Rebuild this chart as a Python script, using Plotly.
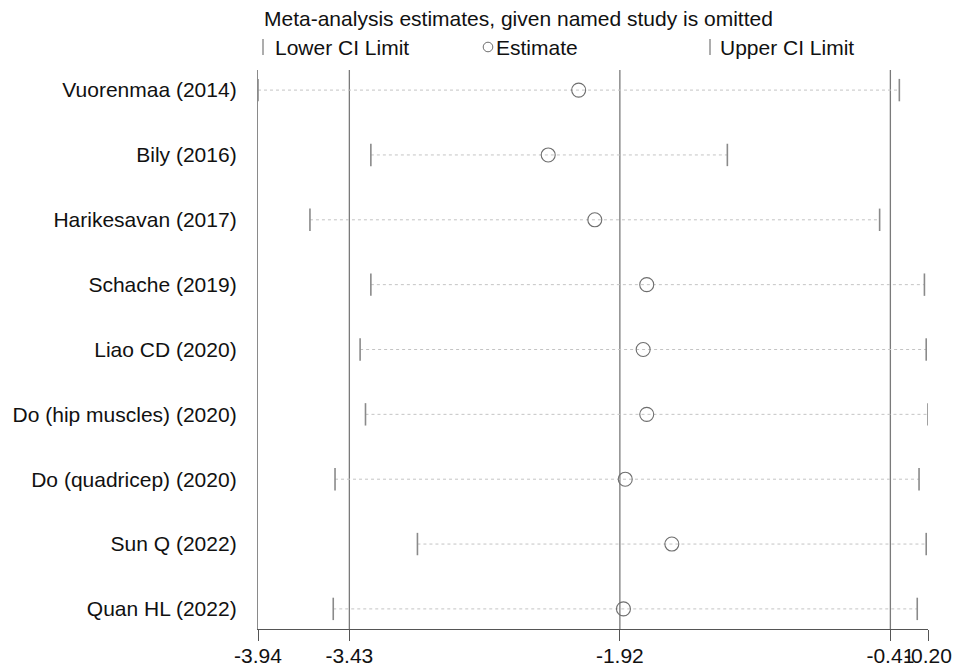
import plotly.graph_objects as go

# Leave-one-out meta-analysis: estimate and CI after omitting each study
studies = [
    "Vuorenmaa (2014)",
    "Bily (2016)",
    "Harikesavan (2017)",
    "Schache (2019)",
    "Liao CD (2020)",
    "Do (hip muscles) (2020)",
    "Do (quadricep) (2020)",
    "Sun Q (2022)",
    "Quan HL (2022)",
]
lower_ci = [-3.94, -3.31, -3.65, -3.31, -3.37, -3.34, -3.51, -3.05, -3.52]
estimate = [-2.15, -2.32, -2.06, -1.77, -1.79, -1.77, -1.89, -1.63, -1.90]
upper_ci = [-0.36, -1.32, -0.47, -0.22, -0.21, -0.20, -0.25, -0.21, -0.26]

# Reference lines: combined lower CI, combined estimate, combined upper CI
ref_lines = [-3.43, -1.92, -0.41]
x_ticks = [-3.94, -3.43, -1.92, -0.41, -0.20]
x_range = [-3.94, -0.20]

rows = list(range(len(studies)))
FONT = "Liberation Sans, Arial, sans-serif"
TXT = "#111111"

fig = go.Figure()

# dotted CI spans
for r, lo, hi in zip(rows, lower_ci, upper_ci):
    fig.add_trace(go.Scatter(
        x=[lo, hi], y=[r, r], mode="lines",
        line=dict(color="#c4c4c4", width=1, dash="dot"),
        hoverinfo="skip", showlegend=False,
    ))

fig.add_trace(go.Scatter(
    x=lower_ci, y=rows, mode="markers", name="Lower CI Limit",
    marker=dict(symbol="line-ns", size=16, line=dict(color="#8a8a8a", width=1.6)),
    showlegend=False,
))
fig.add_trace(go.Scatter(
    x=upper_ci, y=rows, mode="markers", name="Upper CI Limit",
    marker=dict(symbol="line-ns", size=16, line=dict(color="#8a8a8a", width=1.6)),
    showlegend=False,
))
fig.add_trace(go.Scatter(
    x=estimate, y=rows, mode="markers", name="Estimate",
    marker=dict(symbol="circle-open", size=14, color="#6e6e6e",
                line=dict(color="#6e6e6e", width=1.1)),
    showlegend=False,
))

for v in ref_lines:
    fig.add_shape(type="line", x0=v, x1=v, xref="x", y0=0, y1=1, yref="paper",
                  line=dict(color="#7a7a7a", width=1.3), layer="below")

# header: caption and key
fig.add_annotation(text="Meta-analysis estimates, given named study is omitted",
                   xref="paper", yref="paper", x=0, y=1, xshift=4, yshift=52,
                   xanchor="left", yanchor="middle", showarrow=False,
                   font=dict(family=FONT, size=21, color=TXT))

key_y = 23  # pixels above plot top
def key_bar(px):
    fig.add_shape(type="line", xref="paper", yref="paper",
                  x0=px / 670, x1=px / 670, y0=1 + (key_y - 8) / 559, y1=1 + (key_y + 8) / 559,
                  line=dict(color="#8a8a8a", width=1.4))

key_bar(5)
key_bar(452)
cx, cy, rad = 230, key_y, 4.8
fig.add_shape(type="circle", xref="paper", yref="paper",
              x0=(cx - rad) / 670, x1=(cx + rad) / 670,
              y0=1 + (cy - rad) / 559, y1=1 + (cy + rad) / 559,
              line=dict(color="#6e6e6e", width=1))
for px, label in [(15, "Lower CI Limit"), (236, "Estimate"), (460, "Upper CI Limit")]:
    fig.add_annotation(text=label, xref="paper", yref="paper",
                       x=px / 670, y=1 + key_y / 559, xanchor="left", yanchor="middle",
                       showarrow=False, font=dict(family=FONT, size=21, color=TXT))

fig.update_layout(
    template="none",
    width=960, height=668,
    margin=dict(l=258, r=32, t=70, b=39, autoexpand=False),
    paper_bgcolor="white", plot_bgcolor="white",
    font=dict(family=FONT, size=21, color=TXT),
    xaxis=dict(range=x_range, tickvals=x_ticks,
               ticktext=[f"{v:.2f}" for v in x_ticks],
               tickangle=0, showgrid=False, zeroline=False, automargin=False,
               showline=True, linecolor="#555555", linewidth=1.3,
               ticks="outside", ticklen=11, tickcolor="#555555", tickwidth=1.3,
               ticklabelstandoff=-3,
               tickfont=dict(family=FONT, size=21, color=TXT)),
    yaxis=dict(range=[8.31, -0.31], tickvals=rows, ticktext=studies,
               showgrid=False, zeroline=False, automargin=False,
               showline=True, linecolor="#8a8a8a", linewidth=1.3,
               ticks="", ticklabelstandoff=16,
               tickfont=dict(family=FONT, size=21, color=TXT)),
)

fig.write_html("out.html")
